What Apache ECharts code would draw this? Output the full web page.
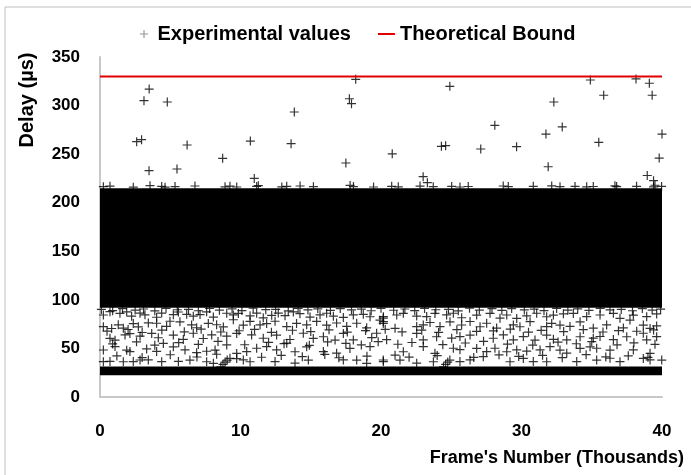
<!DOCTYPE html>
<html>
<head>
<meta charset="utf-8">
<script src="https://cdn.jsdelivr.net/npm/echarts@6/dist/echarts.min.js"></script>
<style>
  html, body { margin: 0; padding: 0; background: #fff; }
  #chart { width: 691px; height: 475px; }
</style>
</head>
<body>
<div id="chart"></div>
<script>
// Axis ticks (frames in thousands, delay in microseconds)
const xTicks = [0, 10, 20, 30, 40];
const yTicks = [0, 50, 100, 150, 200, 250, 300, 350];

// Theoretical worst-case delay bound
const boundFrames = [0, 40];
const boundDelay = 330;

// Span covered by the densely overlapping measurements
const denseFrames = [0, 40];
const denseDelay = [92, 215];
// Minimum-delay floor, hit by a large share of frames
const floorDelay = [22.5, 31.5];

// Isolated high-delay measurements [frame (k), delay (µs)]
const peakValues = [
  [18.2, 327], [3.5, 317], [3.13, 305], [4.79, 303.7], [17.75, 307], [17.9, 302],
  [13.83, 293.4], [2.61, 262.8], [2.96, 264.9], [6.2, 259.4], [10.7, 263.5],
  [13.6, 260.8], [8.73, 245.7], [17.5, 240.9], [3.49, 233], [5.48, 234.7],
  [10.98, 225], [20.8, 250.3], [24.9, 319.8], [34.9, 326.3], [38.15, 327.4],
  [39.1, 323], [35.85, 310.6], [39.3, 310.6], [32.3, 303.7], [28.1, 279.7],
  [32.9, 278], [31.74, 270.7], [40, 270.7], [24.3, 258], [24.6, 258.7],
  [27.1, 255.3], [29.65, 257.7], [35.5, 262.2], [39.8, 246], [31.9, 237],
  [38.95, 228], [23.0, 226.8], [23.3, 220.6], [39.4, 222.7], [39.5, 218]
];

// Measurements just above the dense cluster
const bandEdgeValues = [
  [0.24, 216.5], [0.71, 217], [2.37, 216], [3.56, 217.5], [4.39, 216.8], [4.63, 216],
  [5.34, 216.6], [6.76, 217.2], [8.9, 216.4], [9.25, 217], [9.73, 216.2],
  [11.15, 216.8], [11.27, 217.5], [12.94, 216.3], [13.29, 216.9], [14.24, 217.2],
  [15.19, 216.5], [17.8, 217.8], [18.04, 216.6], [19.47, 216.2], [20.76, 216.9],
  [21.23, 216.4], [22.78, 217.1], [23.72, 216.5], [25.03, 216.8], [25.62, 216.2],
  [26.21, 216.7], [28.7, 217.2], [29.06, 216.6], [30.84, 216.9], [32.15, 217.3],
  [32.74, 216.5], [33.81, 216.8], [34.64, 216.4], [35.11, 216.7], [36.65, 217.4],
  [36.77, 216.6], [38.19, 216.9], [39.4, 216.3], [39.97, 216.8]
];

// Measurements just below the dense cluster
const bandFringeValues = [
  [0.1, 90.2], [0.9, 88.9], [1.6, 91.0], [2.5, 89.5], [3.1, 90.6], [3.9, 88.7],
  [4.7, 91.3], [5.5, 89.8], [6.3, 90.1], [7.0, 88.8], [7.8, 91.1], [8.5, 89.4],
  [9.4, 90.7], [10.1, 89.0], [10.9, 91.4], [11.8, 89.9], [12.5, 90.3], [13.4, 88.6],
  [14.1, 91.2], [14.8, 89.6], [15.5, 90.8], [16.4, 89.1], [17.1, 91.0], [17.9, 89.7],
  [18.6, 90.4], [19.3, 88.8], [20.0, 91.3], [20.9, 89.3], [21.7, 90.6], [22.4, 89.0],
  [23.1, 91.1], [23.9, 89.8], [24.8, 90.2], [25.5, 88.7], [26.3, 91.4], [27.0, 89.5],
  [27.9, 90.9], [28.6, 89.2], [29.3, 91.0], [30.2, 89.6], [30.9, 90.5], [31.6, 88.9],
  [32.5, 91.2], [33.3, 89.4], [34.0, 90.7], [34.8, 89.1], [35.6, 91.3], [36.3, 89.7],
  [37.1, 90.1], [37.9, 88.8], [38.6, 91.0], [39.3, 89.5], [39.9, 90.4]
];

// Scattered measurements between the floor and the dense cluster
const lowerValues = [
  [0.24, 84.4], [0.71, 87.8], [1.42, 86.1], [1.9, 87.6], [2.25, 83.2], [2.85, 86.3],
  [3.2, 84.6], [4.03, 82.1], [4.39, 86.4], [5.22, 84.7], [5.58, 87.5], [6.17, 85.1],
  [6.64, 83.2], [7.12, 84.8], [7.59, 87.7], [8.07, 82.3], [9.02, 86.2], [9.49, 84.5],
  [9.85, 86.0], [10.68, 83.6], [11.15, 86.3], [11.62, 81.5], [12.22, 84.1],
  [12.69, 86.4], [13.17, 83.7], [13.76, 87.6], [14.23, 85.8], [14.95, 82.3],
  [15.66, 84.6], [16.13, 86.2], [16.61, 83.2], [17.32, 81.9], [18.03, 84.5],
  [18.74, 85.1], [19.22, 82.6], [19.93, 79.1], [20.16, 81.2],
  [0.24, 72.4], [0.83, 70.5], [1.3, 74.3], [1.66, 70.9], [2.37, 75.6], [2.73, 72.2],
  [3.44, 76.3], [4.03, 75.9], [4.74, 72.6], [4.98, 78.0], [5.69, 77.4], [6.52, 74.2],
  [6.88, 71.3], [7.71, 75.7], [8.3, 74.4], [8.78, 72.1], [9.49, 79.5], [10.2, 74.0],
  [10.68, 77.9], [11.39, 74.2], [11.86, 75.6], [12.46, 78.0], [13.29, 72.5],
  [13.99, 75.7], [14.71, 74.3], [15.42, 77.8], [16.13, 73.9], [16.84, 76.2],
  [17.56, 72.6], [18.27, 75.9], [18.98, 71.2], [20.16, 75.7],
  [0.71, 60.4], [1.07, 58.5], [1.78, 63.9], [2.13, 65.3], [2.85, 62.7], [3.68, 65.4],
  [4.15, 61.0], [5.22, 63.7], [5.93, 59.3], [6.64, 65.6], [7.35, 60.2], [7.95, 63.9],
  [9.02, 62.6], [9.73, 65.4], [10.79, 63.9], [11.62, 60.5], [12.57, 63.7],
  [13.52, 59.2], [14.47, 65.6], [15.18, 60.3], [15.9, 62.0], [16.73, 58.6],
  [17.32, 65.4], [18.03, 58.8], [19.34, 61.2], [19.69, 65.6],
  [0.24, 48.4], [1.07, 51.9], [1.9, 48.2], [2.13, 46.8], [3.32, 49.5], [4.03, 46.9],
  [4.51, 55.2], [5.22, 51.7], [6.05, 48.5], [6.88, 45.6], [7.59, 47.1], [8.19, 48.3],
  [9.02, 53.6], [9.73, 44.9], [10.44, 46.8], [11.15, 50.2], [11.86, 51.9],
  [12.57, 48.5], [13.29, 55.4], [13.88, 46.6], [14.71, 51.7], [15.9, 46.8],
  [16.84, 45.1], [17.79, 50.0], [19.22, 51.9],
  [0.24, 36.4], [0.71, 36.6], [1.66, 36.3], [2.37, 36.5], [2.85, 38.1], [3.44, 38.2],
  [4.39, 36.4], [5.58, 36.6], [6.4, 38.0], [7.59, 36.3], [8.07, 34.7], [9.25, 39.8],
  [9.73, 39.6], [10.2, 38.2], [10.68, 36.3], [12.46, 36.5], [13.88, 34.8],
  [14.83, 38.0], [17.32, 38.2], [18.27, 38.0], [18.98, 34.6], [20.16, 38.1],
  [20.17, 82.7], [21.12, 84.4], [21.59, 86.1], [22.54, 83.3], [23.25, 82.8],
  [23.84, 86.0], [24.67, 84.5], [25.15, 86.2], [25.74, 81.6], [26.81, 84.3],
  [27.76, 86.1], [28.47, 81.1], [28.95, 84.4], [29.66, 80.9], [30.37, 83.5],
  [31.08, 86.2], [31.79, 82.6], [32.27, 84.3], [32.98, 85.6], [33.69, 86.0],
  [34.64, 82.8], [35.59, 84.4], [36.54, 86.1], [37.01, 81.0], [37.96, 84.3],
  [38.91, 82.7], [39.62, 85.5],
  [20.17, 77.6], [21.0, 70.7], [22.54, 72.5], [23.01, 74.2], [23.49, 76.7],
  [24.2, 72.5], [24.91, 77.4], [25.74, 74.1], [26.34, 77.7], [27.05, 72.3],
  [27.52, 75.9], [28.23, 71.0], [29.42, 74.2], [29.89, 72.3], [30.61, 77.5],
  [31.79, 72.5], [32.15, 75.7], [32.74, 74.0], [33.45, 72.6], [34.17, 77.4],
  [35.11, 70.8], [36.06, 74.2], [37.25, 71.1], [37.72, 79.2], [38.67, 74.0],
  [39.15, 70.6], [39.62, 73.2],
  [20.4, 59.0], [22.54, 65.4], [23.01, 58.8], [23.96, 62.0], [25.03, 60.6],
  [25.62, 62.2], [26.34, 63.7], [27.99, 60.5], [28.71, 63.9], [29.42, 58.9],
  [30.13, 62.2], [30.96, 58.6], [31.79, 63.7], [32.27, 59.4], [33.22, 58.8],
  [34.17, 62.0], [35.11, 60.6], [35.59, 62.3], [36.54, 59.1], [37.49, 62.0],
  [38.67, 65.6], [38.91, 58.9], [39.62, 62.1],
  [21.59, 46.6], [23.01, 51.9], [23.84, 45.0], [25.15, 50.2], [25.62, 48.7],
  [26.81, 50.0], [27.52, 46.8], [28.11, 50.2], [28.95, 46.6], [29.66, 48.5],
  [30.37, 47.3], [31.32, 48.5], [32.03, 51.8], [32.74, 48.3], [33.22, 45.1],
  [34.17, 50.0], [34.88, 51.6], [35.35, 50.2], [36.3, 48.3], [37.96, 48.5],
  [39.15, 45.0],
  [20.17, 36.5], [21.35, 38.0], [22.54, 34.8], [23.73, 36.3], [25.62, 36.5],
  [26.34, 38.2], [27.28, 41.5], [29.18, 36.3], [30.13, 39.7], [30.84, 36.5],
  [31.79, 36.3], [33.93, 36.5], [35.35, 38.0], [36.3, 39.9], [37.01, 36.4],
  [38.67, 39.7], [39.15, 38.2], [39.98, 38.0],
  [0.5, 67.8], [2.0, 69.5], [3.0, 66.4], [4.4, 68.9], [6.0, 67.1], [7.2, 69.8],
  [8.6, 66.9], [9.9, 68.2], [11.0, 69.6], [12.2, 66.6], [13.7, 68.7], [15.0, 67.4],
  [16.3, 69.1], [17.6, 66.8], [18.9, 68.4], [20.3, 69.7], [21.5, 67.0], [22.9, 68.8],
  [24.1, 66.5], [25.4, 69.3], [26.8, 67.6], [28.0, 68.1], [29.2, 69.9], [30.5, 66.7],
  [31.4, 68.6], [33.0, 67.3], [34.4, 69.4], [35.8, 66.9], [36.9, 68.3], [38.2, 67.7],
  [39.4, 69.0],
  [0.9, 54.6], [2.6, 56.8], [3.9, 53.4], [5.6, 55.9], [7.0, 54.1], [8.4, 57.2],
  [10.3, 53.8], [12.0, 56.3], [13.1, 54.9], [14.9, 53.2], [16.2, 56.7], [17.5, 55.1],
  [18.6, 53.6], [19.8, 57.0], [21.2, 54.3], [22.2, 56.1], [24.4, 53.9], [26.0, 55.6],
  [27.3, 57.3], [29.0, 54.4], [30.8, 53.5], [32.6, 56.5], [33.9, 54.8], [35.0, 57.1],
  [36.8, 53.7], [38.0, 55.8], [39.5, 54.2],
  [1.2, 42.3], [3.0, 40.6], [5.0, 43.5], [6.9, 41.2], [8.3, 44.0], [11.5, 40.9],
  [12.9, 42.8], [14.4, 41.5], [16.0, 43.8], [17.0, 40.4], [19.0, 42.0], [21.0, 43.1],
  [22.0, 41.0], [24.0, 42.6], [26.6, 40.7], [28.4, 43.4], [29.8, 41.8], [31.5, 42.9],
  [32.9, 40.5], [34.6, 43.6], [36.0, 41.3], [37.6, 42.4], [39.0, 40.8]
];

// Short runs of rising delay leaving the floor
const floorStreaks = [
  [8.6, 31], [8.75, 33.5], [8.9, 36], [9.05, 38],
  [24.45, 31], [24.6, 33.5], [24.75, 36], [24.9, 38]
];

const plusIcon = 'path://M3.9,0H5.1V9H3.9ZM0,3.9H9V5.1H0Z';
const font = "'Liberation Sans', Arial, sans-serif";

const chart = echarts.init(document.getElementById('chart'), null, { renderer: 'canvas' });

const measured = peakValues.concat(bandEdgeValues, bandFringeValues, lowerValues, floorStreaks);

chart.setOption({
  animation: false,
  backgroundColor: '#fff',
  grid: { left: 100, right: 29, top: 57, bottom: 78, containLabel: false },
  legend: {
    top: 19,
    left: 135,
    itemGap: 27,
    itemWidth: 17,
    itemHeight: 8,
    textStyle: { fontFamily: font, fontWeight: 'bold', fontSize: 20, color: '#000' },
    data: [
      { name: 'Experimental values', icon: plusIcon, itemStyle: { color: '#777' } },
      { name: 'Theoretical Bound', icon: 'path://M0,0H17V2H0Z' }
    ]
  },
  xAxis: {
    type: 'value',
    min: xTicks[0],
    max: xTicks[xTicks.length - 1],
    interval: xTicks[1] - xTicks[0],
    axisLine: { show: true, lineStyle: { color: '#c8c8c8', width: 2 } },
    axisTick: { show: false },
    splitLine: { show: false },
    axisLabel: { margin: 26, fontFamily: font, fontWeight: 'bold', fontSize: 17, color: '#000' }
  },
  yAxis: {
    type: 'value',
    min: yTicks[0],
    max: yTicks[yTicks.length - 1],
    interval: yTicks[1] - yTicks[0],
    axisLine: { show: true, lineStyle: { color: '#c8c8c8', width: 2 } },
    axisTick: { show: false },
    splitLine: { show: false },
    axisLabel: { margin: 20, fontFamily: font, fontWeight: 'bold', fontSize: 17, color: '#000' }
  },
  series: [
    {
      name: 'Experimental values',
      type: 'scatter',
      symbol: plusIcon,
      symbolSize: 9,
      itemStyle: { color: '#000' },
      data: measured,
      markArea: {
        silent: true,
        label: { show: false },
        itemStyle: { color: '#000', opacity: 1 },
        data: [
          [{ coord: [denseFrames[0], denseDelay[0]] }, { coord: [denseFrames[1], denseDelay[1]] }],
          [{ coord: [denseFrames[0], floorDelay[0]] }, { coord: [denseFrames[1], floorDelay[1]] }]
        ]
      }
    },
    {
      name: 'Theoretical Bound',
      type: 'line',
      symbol: 'none',
      lineStyle: { color: '#e00000', width: 2 },
      itemStyle: { color: '#e00000' },
      data: boundFrames.map(f => [f, boundDelay])
    }
  ],
  graphic: [
    { type: 'line', shape: { x1: 5, y1: 7, x2: 691, y2: 7 }, style: { stroke: '#c0c0c0', lineWidth: 1 } },
    { type: 'line', shape: { x1: 5, y1: 7, x2: 5, y2: 475 }, style: { stroke: '#c0c0c0', lineWidth: 1 } },
    {
      type: 'text', x: 27, y: 100, rotation: Math.PI / 2,
      style: { text: 'Delay (µs)', font: 'bold 20px ' + font, fill: '#000', align: 'center', verticalAlign: 'middle' }
    },
    {
      type: 'text', x: 684, y: 458,
      style: { text: "Frame's Number (Thousands)", font: 'bold 18px ' + font, fill: '#000', align: 'right', verticalAlign: 'middle' }
    }
  ]
});
</script>
</body>
</html>
